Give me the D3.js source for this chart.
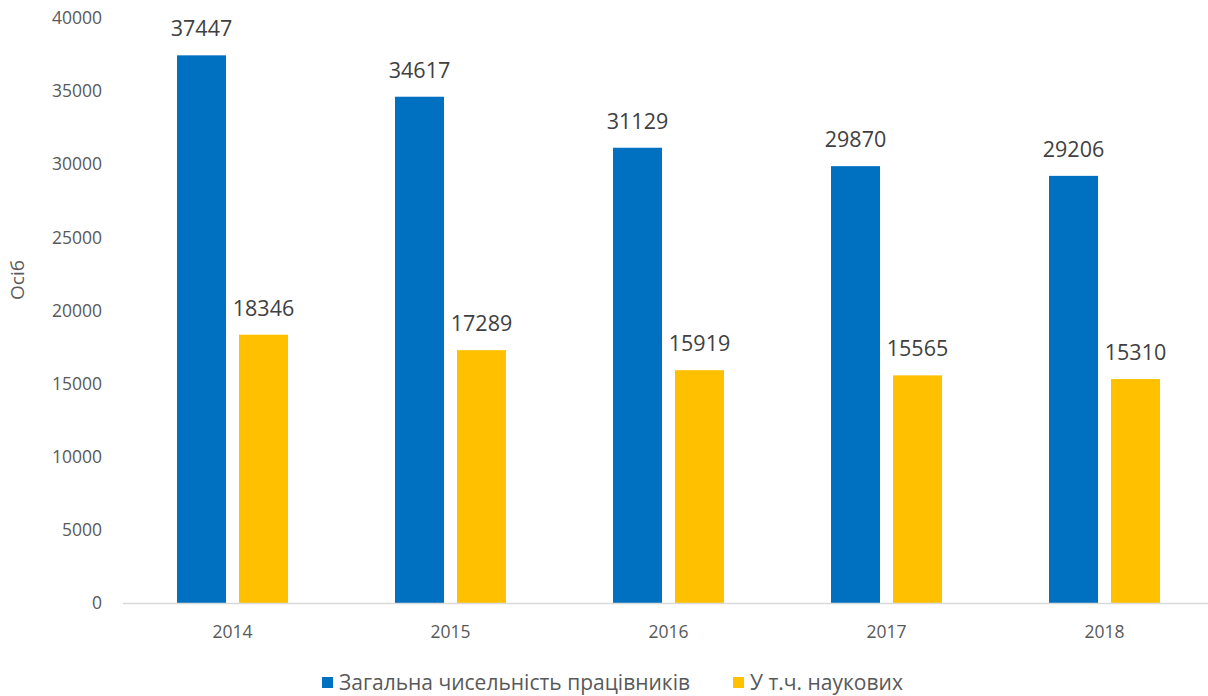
<!DOCTYPE html>
<html><head><meta charset="utf-8">
<script src="https://cdn.jsdelivr.net/npm/d3@7"></script>
<style>body{margin:0;background:#fff}svg{display:block;font-family:"Open Sans",sans-serif}</style>
</head><body>
<svg id="c" width="1208" height="696"></svg>
<script>
const categories = ["2014","2015","2016","2017","2018"];
const totalWorkers = [37447, 34617, 31129, 29870, 29206];
const scientists = [18346, 17289, 15919, 15565, 15310];
const yTicks = [0,5000,10000,15000,20000,25000,30000,35000,40000];
const seriesNames = ["Загальна чисельність працівників","У т.ч. наукових"];
const seriesColors = ["#0070C0","#FFC000"];
const yTitle = "Осіб";

const svg = d3.select("#c");
const x = d3.scaleBand().domain(categories).range([123.5,1213.5]);
const y = d3.scaleLinear().domain([0,40000]).range([603,18]);
const inner = d3.scaleBand().domain([0,1]).range([53.5,164.5]).paddingInner(13/62);

const series = [totalWorkers, scientists];

// y axis labels
svg.append("g").selectAll("text").data(yTicks).join("text")
  .attr("x",102).attr("y",d=>y(d)).attr("dy","0.35em")
  .attr("text-anchor","end").attr("font-size",17.5).attr("fill","#595959")
  .text(d=>d);

svg.append("text").attr("transform","translate(24,280) rotate(-90)")
  .attr("text-anchor","middle").attr("font-size",19).attr("fill","#595959").text(yTitle);

// bars
series.forEach((vals,si)=>{
  const g = svg.append("g");
  g.selectAll("rect").data(vals).join("rect")
    .attr("x",(d,i)=>x(categories[i])+inner(si))
    .attr("width",inner.bandwidth())
    .attr("y",d=>y(d)).attr("height",d=>y(0)-y(d))
    .attr("fill",seriesColors[si]);
  g.selectAll("text").data(vals).join("text")
    .attr("x",(d,i)=>x(categories[i])+inner(si)+inner.bandwidth()/2)
    .attr("y",d=>y(d)-19)
    .attr("text-anchor","middle").attr("font-size",21.5).attr("fill","#404040")
    .text(d=>d);
});

// baseline
svg.append("line").attr("x1",123).attr("x2",1208).attr("y1",y(0)+0.5).attr("y2",y(0)+0.5)
  .attr("stroke","#d9d9d9").attr("stroke-width",1.5);

// x labels
svg.append("g").selectAll("text").data(categories).join("text")
  .attr("x",d=>x(d)+x.bandwidth()/2).attr("y",632).attr("dy","0.35em")
  .attr("text-anchor","middle").attr("font-size",17.5).attr("fill","#595959").text(d=>d);

// legend
const legX = [322, 733];
seriesNames.forEach((n,i)=>{
  svg.append("rect").attr("x",legX[i]).attr("y",677).attr("width",11).attr("height",11).attr("fill",seriesColors[i]);
  svg.append("text").attr("x",legX[i]+17).attr("y",683).attr("dy","0.35em")
    .attr("font-size",21).attr("fill","#595959").text(n);
});
</script>
</body></html>
